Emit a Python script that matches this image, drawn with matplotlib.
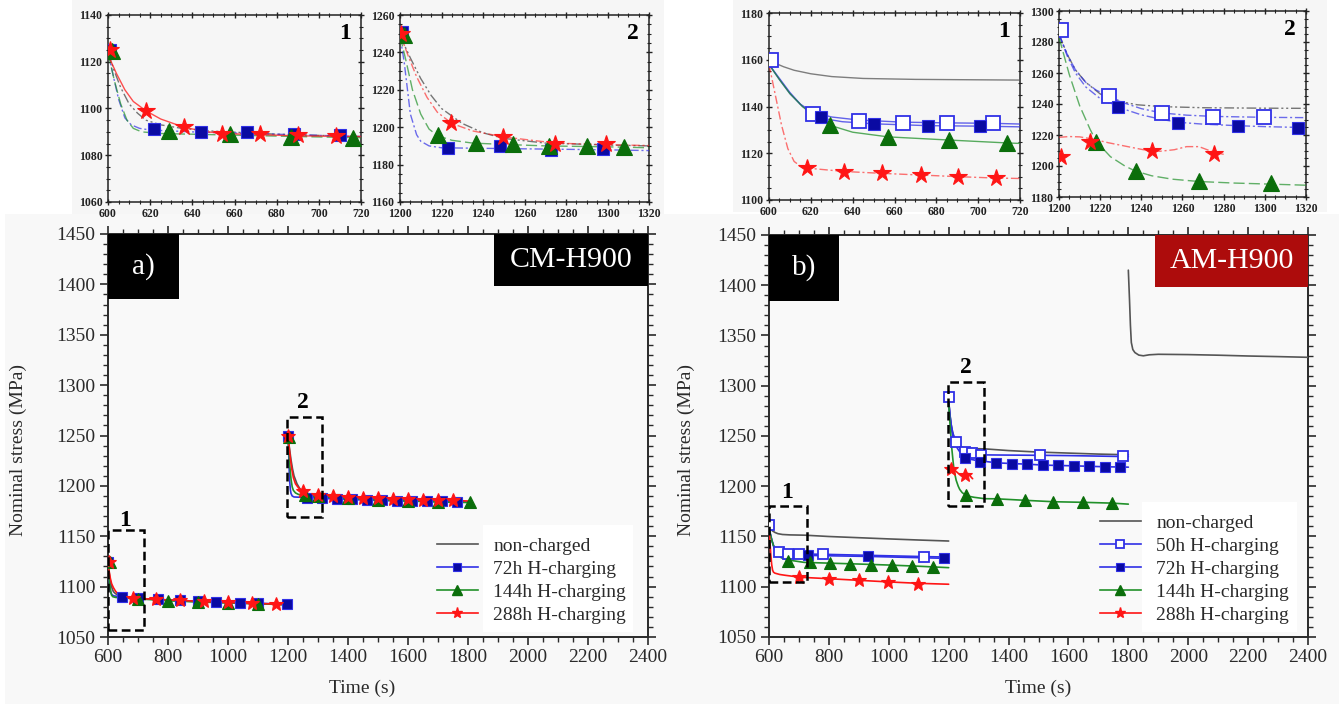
import matplotlib
matplotlib.use('Agg')
import matplotlib.pyplot as plt
from matplotlib.patches import Rectangle
from matplotlib.lines import Line2D
from matplotlib.ticker import MultipleLocator

plt.rcParams['font.family'] = ['Liberation Serif', 'DejaVu Serif']

# ------------------------------------------------------------------
# CM-H900 : stress relaxation curves (time in s, stress in MPa)
# ------------------------------------------------------------------
cm_nc_t1 = [600, 603, 606, 610, 614, 618, 625, 635, 650, 680, 720, 800, 900, 1000, 1100, 1200]
cm_nc_s1 = [1124, 1116, 1109, 1102, 1098, 1095, 1093, 1091.5, 1090.3, 1089, 1088, 1086.5, 1085, 1084, 1083, 1082]
cm_72_t1 = [600, 602, 605, 608, 611, 615, 620, 640, 680, 720, 800, 900, 1000, 1100, 1200]
cm_72_s1 = [1124, 1116, 1104, 1096, 1093, 1091.5, 1090.8, 1090, 1089, 1088, 1086.8, 1085.5, 1084.5, 1083.5, 1082.5]
cm_144_t1 = [600, 603, 606, 609, 612, 616, 625, 650, 690, 720, 800, 900, 1000, 1100, 1200]
cm_144_s1 = [1124, 1112, 1102, 1095, 1091.5, 1090, 1089.3, 1088.8, 1088, 1087.5, 1086, 1084.8, 1083.8, 1083, 1082]
cm_288_t1 = [600, 604, 608, 612, 618, 625, 636, 645, 654, 672, 690, 720, 800, 900, 1000, 1100, 1200]
cm_288_s1 = [1123, 1115, 1108, 1103, 1099, 1095.5, 1092, 1090.3, 1089.3, 1088.8, 1088.3, 1088, 1086.8, 1085.5, 1084.3, 1083.3, 1082.3]

cm_nc_t2 = [1200, 1205, 1210, 1215, 1220, 1230, 1240, 1250, 1270, 1300, 1320, 1400, 1500, 1600, 1700, 1800]
cm_nc_s2 = [1249, 1237, 1226, 1217, 1210, 1202, 1197, 1194, 1191.5, 1190.5, 1190, 1188.5, 1187, 1186, 1185, 1184]
cm_72_t2 = [1200, 1202, 1205, 1208, 1210, 1214, 1220, 1240, 1270, 1300, 1320, 1400, 1500, 1600, 1700, 1800]
cm_72_s2 = [1249, 1235, 1207, 1196, 1192.5, 1190, 1189, 1188.7, 1188.3, 1187.9, 1187.5, 1186.5, 1185.5, 1185, 1184.5, 1184]
cm_144_t2 = [1200, 1203, 1206, 1210, 1214, 1218, 1225, 1235, 1250, 1270, 1300, 1320, 1400, 1500, 1600, 1700, 1800]
cm_144_s2 = [1249, 1235, 1220, 1207, 1199, 1195.5, 1193, 1191.5, 1190.8, 1190, 1189.5, 1189, 1187.5, 1186, 1185, 1184, 1183.5]
cm_288_t2 = [1200, 1204, 1208, 1213, 1218, 1225, 1235, 1250, 1275, 1300, 1320, 1400, 1500, 1600, 1700, 1800]
cm_288_s2 = [1250, 1238, 1227, 1216, 1208, 1202, 1198, 1194.8, 1191.5, 1190.6, 1190.2, 1189, 1187.8, 1186.8, 1186, 1185]

# symbols on the full-range plot
cm_72_mk_t1 = [600, 645, 700, 765, 840, 900, 960, 1040, 1100, 1195]
cm_72_mk_s1 = [1124, 1089.8, 1088.5, 1087.5, 1086.5, 1085.5, 1085, 1084, 1083.5, 1082.5]
cm_144_mk_t1 = [606, 700, 800, 900, 1000, 1100]
cm_144_mk_s1 = [1124, 1087.5, 1086, 1084.8, 1083.8, 1083]
cm_288_mk_t1 = [603, 683, 760, 840, 920, 1000, 1080, 1160]
cm_288_mk_s1 = [1124, 1088.5, 1087.3, 1086.6, 1085.3, 1084.3, 1083.5, 1082.6]
cm_72_mk_t2 = [1200, 1262, 1312, 1362, 1412, 1462, 1512, 1562, 1612, 1662, 1712, 1762]
cm_72_mk_s2 = [1250, 1188.2, 1187.8, 1187.2, 1186.6, 1186, 1185.5, 1185.3, 1185, 1184.8, 1184.5, 1184.3]
cm_144_mk_t2 = [1203, 1255, 1300, 1400, 1500, 1600, 1700, 1805]
cm_144_mk_s2 = [1249, 1190.6, 1189.5, 1187.5, 1186, 1185, 1184, 1183.5]
cm_288_mk_t2 = [1200, 1250, 1300, 1350, 1400, 1450, 1500, 1550, 1600, 1650, 1700, 1750]
cm_288_mk_s2 = [1250, 1194.8, 1190.6, 1189.8, 1189, 1188.4, 1187.8, 1187.3, 1186.8, 1186.4, 1186, 1185.5]

# symbols on the zoomed windows
cm_72_in_t1 = [601, 622, 644, 666, 688, 710]
cm_72_in_s1 = [1125, 1091.2, 1090, 1089.8, 1089, 1088.6]
cm_144_in_t1 = [602, 629, 658, 687, 716]
cm_144_in_s1 = [1124.5, 1090.3, 1089.3, 1088, 1087.5]
cm_288_in_t1 = [601, 618, 636, 654, 672, 690, 708]
cm_288_in_s1 = [1125, 1099, 1092.2, 1089.3, 1089.2, 1088.5, 1088.3]
cm_72_in_t2 = [1201, 1223, 1248, 1273, 1298]
cm_72_in_s2 = [1251, 1189, 1190, 1188, 1188.5]
cm_144_in_t2 = [1202, 1218.5, 1236.6, 1254.5, 1272, 1290, 1308]
cm_144_in_s2 = [1249.5, 1195.7, 1191.6, 1191, 1190, 1190, 1189.5]
cm_288_in_t2 = [1200.5, 1224.5, 1249.7, 1274.6, 1299.5]
cm_288_in_s2 = [1250, 1202.3, 1194.8, 1191.2, 1191.2]

# ------------------------------------------------------------------
# AM-H900
# ------------------------------------------------------------------
am_nc_t1 = [600, 603, 607, 612, 620, 630, 645, 670, 720, 800, 900, 1000, 1100, 1200]
am_nc_s1 = [1160, 1158.5, 1157, 1155.5, 1154, 1152.8, 1152, 1151.6, 1151.3, 1150, 1148.8, 1147.6, 1146.5, 1145.5]
am_50_t1 = [600, 605, 610, 615, 621, 630, 643, 664, 685, 707, 720, 780, 900, 1000, 1120, 1200]
am_50_s1 = [1158, 1152, 1146, 1141, 1137.5, 1135.5, 1134.2, 1133.3, 1133, 1132.8, 1132.5, 1132.3, 1131.5, 1130.8, 1130, 1129.5]
am_72_t1 = [600, 605, 610, 616, 625, 635, 650, 676, 700, 720, 800, 930, 1050, 1200]
am_72_s1 = [1158, 1151.5, 1145.5, 1140, 1135, 1133.5, 1132.6, 1131.8, 1131.6, 1131.3, 1130.8, 1130.2, 1129.3, 1128.2]
am_144_t1 = [600, 605, 610, 616, 622, 629, 640, 657, 685, 714, 720, 800, 900, 1000, 1100, 1200]
am_144_s1 = [1158, 1151.5, 1145.5, 1140, 1135.5, 1132, 1129, 1127, 1125.7, 1124.4, 1124.2, 1123.5, 1122.6, 1121.6, 1120.4, 1119]
am_288_t1 = [600, 603, 606, 609, 612, 615, 620, 636, 654, 672, 690, 708, 720, 800, 900, 1000, 1100, 1200]
am_288_s1 = [1158, 1145, 1132, 1122, 1116.5, 1114.5, 1113.5, 1112.2, 1111.4, 1110.7, 1110, 1109.4, 1109.2, 1108, 1106.4, 1104.8, 1103.4, 1102.5]

am_nc_t2 = [1200, 1204, 1208, 1213, 1220, 1228, 1238, 1250, 1270, 1300, 1320, 1400, 1500, 1600, 1700, 1800]
am_nc_s2 = [1285, 1272, 1262, 1254, 1246.5, 1242, 1239.5, 1238.3, 1237.6, 1237.3, 1237.2, 1235.5, 1234, 1233, 1232, 1231.3]
am_50_t2 = [1200, 1204, 1208, 1213, 1218, 1224, 1232, 1240, 1250, 1262, 1275, 1300, 1320, 1400, 1500, 1600, 1700, 1800]
am_50_s2 = [1285, 1272, 1262, 1254, 1249, 1245.2, 1240.5, 1237, 1234.2, 1232.8, 1232, 1231.4, 1231.2, 1231, 1230.8, 1230.5, 1230, 1229.5]
am_72_t2 = [1200, 1204, 1208, 1213, 1220, 1229, 1240, 1250, 1258, 1270, 1287, 1300, 1316, 1320, 1360, 1410, 1460, 1520, 1620, 1720, 1800]
am_72_s2 = [1285, 1271, 1260, 1251, 1243.5, 1237.8, 1233, 1230, 1228.2, 1227, 1226, 1225.4, 1224.9, 1224.8, 1223.3, 1222.6, 1222, 1221, 1220.3, 1219.4, 1219]
am_144_t2 = [1200, 1205, 1210, 1215, 1218, 1225, 1232, 1237, 1245, 1255, 1268, 1285, 1303, 1320, 1360, 1455, 1550, 1650, 1746, 1800]
am_144_s2 = [1283, 1259, 1239, 1224, 1216, 1206, 1200, 1196.8, 1193.7, 1191.5, 1190, 1189, 1188.3, 1187.6, 1187.5, 1186, 1184.6, 1184, 1183.2, 1182.2]
am_288_t2 = [1200, 1205, 1210, 1216, 1224, 1233, 1241, 1249, 1256, 1262, 1268, 1275, 1280]
am_288_s2 = [1218.5, 1219, 1218.8, 1217.5, 1215, 1212.6, 1210.5, 1209.5, 1210.5, 1212.5, 1212.5, 1209, 1207.5]

am_nc_t3 = [1800, 1804, 1807, 1810, 1815, 1822, 1835, 1850, 1870, 1900, 2000, 2100, 2200, 2300, 2400]
am_nc_s3 = [1415, 1385, 1360, 1343, 1336, 1333, 1330.5, 1329.8, 1330.8, 1331.3, 1331, 1330.4, 1329.6, 1329, 1328.3]

am_50_mk_t1 = [600, 633, 665, 701, 779, 1119]
am_50_mk_s1 = [1161, 1134.6, 1133, 1133, 1132.5, 1129.7]
am_72_mk_t1 = [730, 932, 1183]
am_72_mk_s1 = [1131.3, 1130.3, 1128.2]
am_144_mk_t1 = [665, 737, 804, 870, 941, 1010, 1079, 1147]
am_144_mk_s1 = [1125.7, 1124.7, 1123.6, 1123, 1122, 1121.3, 1120.4, 1119.6]
am_288_mk_t1 = [701, 800, 900, 998, 1098]
am_288_mk_s1 = [1109.8, 1108, 1106.4, 1104.8, 1103.2]
am_50_mk_t2 = [1200, 1225, 1255, 1279, 1308, 1505, 1783]
am_50_mk_s2 = [1288.5, 1244.2, 1234.2, 1232.6, 1231.3, 1231, 1230]
am_72_mk_t2 = [1255, 1305, 1358, 1411, 1463, 1514, 1566, 1619, 1670, 1722, 1772]
am_72_mk_s2 = [1228.6, 1224.3, 1223.3, 1222.6, 1222, 1221, 1221, 1220.3, 1220.3, 1219.3, 1219.3]
am_144_mk_t2 = [1258, 1360, 1455, 1550, 1650, 1746]
am_144_mk_s2 = [1191, 1187.8, 1186.1, 1184.5, 1184.5, 1183.8]
am_288_mk_t2 = [1207, 1255]
am_288_mk_s2 = [1217.6, 1211]

am_50_in_t1 = [601, 621, 643, 664, 685, 707]
am_50_in_s1 = [1160, 1137, 1134, 1133, 1132.9, 1133]
am_72_in_t1 = [625, 650, 676, 701]
am_72_in_s1 = [1135.4, 1132.6, 1131.7, 1131.7]
am_144_in_t1 = [629, 657, 686, 714]
am_144_in_s1 = [1132, 1127, 1125.7, 1124.3]
am_288_in_t1 = [618, 636, 654, 672.5, 690.5, 708.5]
am_288_in_s1 = [1113.6, 1112.1, 1111.4, 1110.7, 1110, 1109.3]
am_50_in_t2 = [1201, 1224.4, 1250, 1274.7, 1299.7]
am_50_in_s2 = [1287.6, 1245.1, 1234, 1231.9, 1231.4]
am_72_in_t2 = [1228.7, 1258, 1287.2, 1316]
am_72_in_s2 = [1237.9, 1228, 1225.9, 1224.8]
am_144_in_t2 = [1217.9, 1237.2, 1268.2, 1303]
am_144_in_s2 = [1215.8, 1196.5, 1190.1, 1189]
am_288_in_t2 = [1201, 1215, 1245, 1275.3]
am_288_in_s2 = [1206.1, 1215.8, 1209.4, 1207.9]

legend_a = ['non-charged', '72h H-charging', '144h H-charging', '288h H-charging']
legend_b = ['non-charged', '50h H-charging', '72h H-charging', '144h H-charging', '288h H-charging']

# ------------------------------------------------------------------
W, H = 1339, 704
fig = plt.figure(figsize=(W / 100, H / 100), dpi=100)
fig.patch.set_facecolor('white')


def px_axes(x0, y0, x1, y1):
    return fig.add_axes([x0 / W, 1 - y1 / H, (x1 - x0) / W, (y1 - y0) / H])


def px_rect(x0, y0, x1, y1, color):
    fig.add_artist(Rectangle((x0 / W, 1 - y1 / H), (x1 - x0) / W, (y1 - y0) / H,
                             transform=fig.transFigure, facecolor=color,
                             edgecolor='none', zorder=-10))


px_rect(5, 214, W, H, '#f8f8f8')
px_rect(72, 0, 664, 214, '#f6f6f6')
px_rect(733, 0, 1327, 212, '#f6f6f6')

GRAY = '#555555'
BLUE_L = '#3030e6'
BLUE_F = '#0a0aa2'
GREEN_L = '#21912a'
GREEN_F = '#0b6e0b'
RED = '#ff1515'
INK = '#2a2a2a'
FS = 14

main_style = {
    'nc': dict(color=GRAY, lw=1.2),
    '50': dict(color=BLUE_L, lw=1.2, marker='s', mfc='white', mec=BLUE_L, mew=1.3, ms=7.5),
    '72': dict(color=BLUE_L, lw=1.2, marker='s', mfc=BLUE_F, mec=BLUE_L, mew=0.8, ms=7),
    '144': dict(color=GREEN_L, lw=1.2, marker='^', mfc=GREEN_F, mec=GREEN_F, ms=8.5),
    '288': dict(color=RED, lw=1.2, marker='*', mfc=RED, mec=RED, ms=10),
}


def draw_series(ax, key, curves, marks, line_kw=None, mk_scale=1.0):
    st = dict(main_style[key])
    lkw = dict(color=st['color'], lw=st['lw'], solid_capstyle='round')
    if line_kw:
        lkw.update(line_kw)
    for t, s in curves:
        ax.plot(t, s, zorder=3, **lkw)
    if 'marker' in st:
        for t, s in marks:
            ax.plot(t, s, ls='none', marker=st['marker'], mfc=st['mfc'], mec=st['mec'],
                    mew=st['mew'] if 'mew' in st else 0.8, ms=st['ms'] * mk_scale,
                    zorder=4, clip_on=True)


def style_main(ax, ylab_x):
    ax.set_facecolor('#f9f9f9')
    ax.set_xlim(600, 2400)
    ax.set_ylim(1050, 1450)
    ax.xaxis.set_major_locator(MultipleLocator(200))
    ax.xaxis.set_minor_locator(MultipleLocator(50))
    ax.yaxis.set_major_locator(MultipleLocator(50))
    ax.yaxis.set_minor_locator(MultipleLocator(10))
    ax.tick_params(which='both', direction='out', top=True, right=True,
                   labelsize=FS, labelcolor=INK, colors=INK)
    ax.tick_params(which='major', length=6, width=1.2, pad=3)
    ax.tick_params(which='minor', length=3.5, width=1.0)
    for sp in ax.spines.values():
        sp.set_linewidth(1.4)
        sp.set_color(INK)
    ax.set_xlabel('Time (s)', fontsize=FS, color=INK)
    ax.set_ylabel('Nominal stress (MPa)', fontsize=FS, color=INK)
    ax.yaxis.set_label_coords(ylab_x, 0.465)


def tag(ax, x0, x1, y0, y1, text, color, size):
    ax.add_patch(Rectangle((x0, y0), x1 - x0, y1 - y0, transform=ax.transAxes,
                           facecolor=color, edgecolor='none', zorder=6, clip_on=False))
    ax.text((x0 + x1) / 2, (y0 + y1) / 2, text, transform=ax.transAxes, color='white',
            fontsize=size, ha='center', va='center', zorder=7)


def zoom_box(ax, t0, t1, s0, s1, label, lx, ly):
    ax.add_patch(Rectangle((t0, s0), t1 - t0, s1 - s0, fill=False, edgecolor='black',
                           lw=1.8, ls=(0, (3.5, 1.8)), zorder=5))
    ax.text(lx, ly, label, fontsize=17, fontweight='bold', ha='center', va='center', zorder=5)


def legend_with_panel(ax, keys, labels, anchor, box):
    handles = []
    for k in keys:
        st = dict(main_style[k])
        if 'ms' in st:
            st['ms'] = st['ms'] * 0.8
        handles.append(Line2D([], [], **st))
    ax.add_patch(Rectangle((box[0], box[1]), box[2] - box[0], box[3] - box[1],
                           transform=ax.transAxes, facecolor='white', edgecolor='none', zorder=2))
    leg = ax.legend(handles, labels, loc='upper left', bbox_to_anchor=anchor, frameon=False,
                    fontsize=FS, handlelength=2.1, handletextpad=0.8, labelspacing=0.28,
                    borderpad=0, borderaxespad=0)
    for txt in leg.get_texts():
        txt.set_color(INK)
    leg.set_zorder(8)


# ---------------- panel a ----------------
ax_a = px_axes(108, 234, 648, 637)
style_main(ax_a, -0.15)
ax_a.xaxis.set_label_coords(0.47, -0.105)
draw_series(ax_a, 'nc', [(cm_nc_t1, cm_nc_s1), (cm_nc_t2, cm_nc_s2)], [])
draw_series(ax_a, '72', [(cm_72_t1, cm_72_s1), (cm_72_t2, cm_72_s2)],
            [(cm_72_mk_t1, cm_72_mk_s1), (cm_72_mk_t2, cm_72_mk_s2)])
draw_series(ax_a, '144', [(cm_144_t1, cm_144_s1), (cm_144_t2, cm_144_s2)],
            [(cm_144_mk_t1, cm_144_mk_s1), (cm_144_mk_t2, cm_144_mk_s2)])
draw_series(ax_a, '288', [(cm_288_t1, cm_288_s1), (cm_288_t2, cm_288_s2)],
            [(cm_288_mk_t1, cm_288_mk_s1), (cm_288_mk_t2, cm_288_mk_s2)])
zoom_box(ax_a, 601, 720, 1057, 1156, '1', 657, 1166)
zoom_box(ax_a, 1196, 1313, 1169, 1268, '2', 1251, 1283)
tag(ax_a, 0, 0.131, 0.839, 1.0, 'a)', 'black', 21)
tag(ax_a, 0.715, 1.0, 0.871, 1.0, 'CM-H900', 'black', 21.5)
legend_with_panel(ax_a, ['nc', '72', '144', '288'], legend_a, (0.609, 0.248),
                  (0.694, 0.012, 0.972, 0.278))

# ---------------- panel b ----------------
ax_b = px_axes(769, 235, 1308, 637)
style_main(ax_b, -0.137)
ax_b.xaxis.set_label_coords(0.5, -0.105)
draw_series(ax_b, 'nc', [(am_nc_t1, am_nc_s1), (am_nc_t2, am_nc_s2), (am_nc_t3, am_nc_s3)], [])
draw_series(ax_b, '50', [(am_50_t1, am_50_s1), (am_50_t2, am_50_s2)],
            [(am_50_mk_t1, am_50_mk_s1), (am_50_mk_t2, am_50_mk_s2)])
draw_series(ax_b, '72', [(am_72_t1, am_72_s1), (am_72_t2, am_72_s2)],
            [(am_72_mk_t1, am_72_mk_s1), (am_72_mk_t2, am_72_mk_s2)])
draw_series(ax_b, '144', [(am_144_t1, am_144_s1), (am_144_t2, am_144_s2)],
            [(am_144_mk_t1, am_144_mk_s1), (am_144_mk_t2, am_144_mk_s2)])
draw_series(ax_b, '288', [(am_288_t1, am_288_s1), (am_288_t2, am_288_s2)],
            [(am_288_mk_t1, am_288_mk_s1), (am_288_mk_t2, am_288_mk_s2)])
zoom_box(ax_b, 600, 728, 1105, 1180, '1', 661, 1194)
zoom_box(ax_b, 1199, 1319, 1180, 1304, '2', 1256, 1318)
tag(ax_b, 0, 0.13, 0.836, 1.0, 'b)', 'black', 21)
tag(ax_b, 0.716, 1.0, 0.871, 1.0, 'AM-H900', '#ad0c0c', 21.5)
legend_with_panel(ax_b, ['nc', '50', '72', '144', '288'], legend_b, (0.614, 0.306),
                  (0.692, 0.012, 0.98, 0.336))


# ---------------- zoomed windows ----------------
def style_inset(ax, xlim, ylim, label):
    ax.set_facecolor('#f6f6f6')
    ax.set_xlim(*xlim)
    ax.set_ylim(*ylim)
    ax.xaxis.set_major_locator(MultipleLocator(20))
    ax.xaxis.set_minor_locator(MultipleLocator(5))
    ax.yaxis.set_major_locator(MultipleLocator(20))
    ax.yaxis.set_minor_locator(MultipleLocator(5))
    ax.tick_params(which='both', direction='inout', top=True, right=True,
                   labelsize=8.5, colors='#222222', pad=1.5)
    ax.tick_params(which='major', length=5, width=1.0)
    ax.tick_params(which='minor', length=2.5, width=0.8)
    for lab in ax.get_xticklabels() + ax.get_yticklabels():
        lab.set_fontweight('bold')
    for sp in ax.spines.values():
        sp.set_linewidth(1.1)
        sp.set_color('#222222')
    ax.text(0.96, 0.9, label, transform=ax.transAxes, fontsize=17, fontweight='bold',
            ha='right', va='center')


dash_nc = dict(ls=(0, (7, 2, 1.5, 2, 1.5, 2)), lw=1.0, alpha=0.8)
dash_bl = dict(ls=(0, (6, 2, 1.5, 2)), lw=1.0, alpha=0.7)
dash_gr = dict(ls=(0, (8, 3)), lw=1.0, alpha=0.7)
dash_rd = dict(ls=(0, (6, 2, 1.5, 2)), lw=1.0, alpha=0.6)
solid_th = dict(lw=1.0, alpha=0.75)

ia1 = px_axes(108, 15, 361, 202)
style_inset(ia1, (600, 720), (1060, 1140), '1')
draw_series(ia1, 'nc', [(cm_nc_t1, cm_nc_s1)], [], line_kw=dash_nc)
draw_series(ia1, '72', [(cm_72_t1, cm_72_s1)], [(cm_72_in_t1, cm_72_in_s1)], line_kw=dash_bl, mk_scale=1.3)
draw_series(ia1, '144', [(cm_144_t1, cm_144_s1)], [(cm_144_in_t1, cm_144_in_s1)], line_kw=dash_gr, mk_scale=1.3)
draw_series(ia1, '288', [(cm_288_t1, cm_288_s1)], [(cm_288_in_t1, cm_288_in_s1)], line_kw=solid_th, mk_scale=1.3)

ia2 = px_axes(400, 15, 649, 202)
style_inset(ia2, (1200, 1320), (1160, 1260), '2')
draw_series(ia2, 'nc', [(cm_nc_t2, cm_nc_s2)], [], line_kw=dash_nc)
draw_series(ia2, '72', [(cm_72_t2, cm_72_s2)], [(cm_72_in_t2, cm_72_in_s2)], line_kw=dash_bl, mk_scale=1.3)
draw_series(ia2, '144', [(cm_144_t2, cm_144_s2)], [(cm_144_in_t2, cm_144_in_s2)], line_kw=dash_gr, mk_scale=1.3)
draw_series(ia2, '288', [(cm_288_t2, cm_288_s2)], [(cm_288_in_t2, cm_288_in_s2)], line_kw=dash_rd, mk_scale=1.3)

ib1 = px_axes(769, 13, 1020, 200)
style_inset(ib1, (600, 720), (1100, 1180), '1')
draw_series(ib1, 'nc', [(am_nc_t1, am_nc_s1)], [], line_kw=solid_th)
draw_series(ib1, '50', [(am_50_t1, am_50_s1)], [(am_50_in_t1, am_50_in_s1)], line_kw=solid_th, mk_scale=1.3)
draw_series(ib1, '72', [(am_72_t1, am_72_s1)], [(am_72_in_t1, am_72_in_s1)], line_kw=solid_th, mk_scale=1.3)
draw_series(ib1, '144', [(am_144_t1, am_144_s1)], [(am_144_in_t1, am_144_in_s1)], line_kw=solid_th, mk_scale=1.3)
draw_series(ib1, '288', [(am_288_t1, am_288_s1)], [(am_288_in_t1, am_288_in_s1)], line_kw=dash_rd, mk_scale=1.3)

ib2 = px_axes(1059, 11, 1306, 197)
style_inset(ib2, (1200, 1320), (1180, 1300), '2')
draw_series(ib2, 'nc', [(am_nc_t2, am_nc_s2)], [], line_kw=dash_nc)
draw_series(ib2, '50', [(am_50_t2, am_50_s2)], [(am_50_in_t2, am_50_in_s2)], line_kw=dash_bl, mk_scale=1.3)
draw_series(ib2, '72', [(am_72_t2, am_72_s2)], [(am_72_in_t2, am_72_in_s2)], line_kw=dash_bl, mk_scale=1.3)
draw_series(ib2, '144', [(am_144_t2, am_144_s2)], [(am_144_in_t2, am_144_in_s2)], line_kw=dash_gr, mk_scale=1.3)
draw_series(ib2, '288', [(am_288_t2, am_288_s2)], [(am_288_in_t2, am_288_in_s2)], line_kw=dash_rd, mk_scale=1.3)

fig.savefig('out.png', dpi=100, facecolor=fig.get_facecolor())
